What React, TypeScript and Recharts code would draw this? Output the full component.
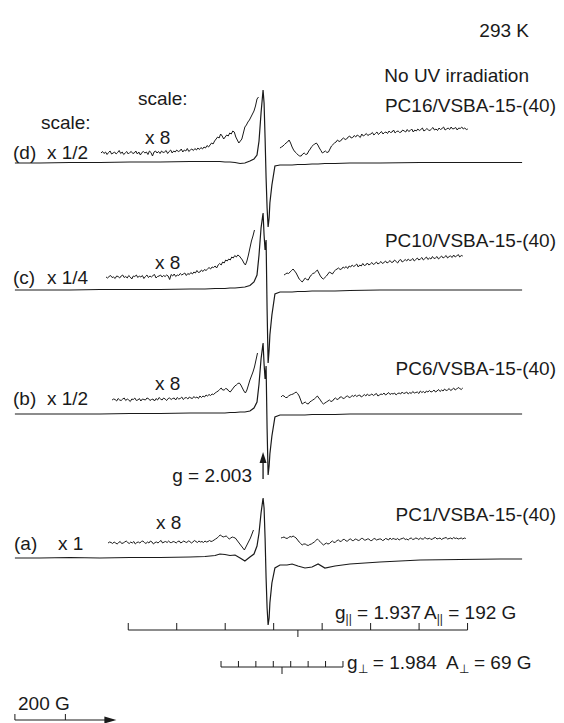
import { LineChart, Line, XAxis, YAxis, ReferenceLine, ReferenceDot } from 'recharts'

const W = 564
const H = 723
const INK = '#1a1a1a'
const FONT = '"Liberation Sans", Arial, Helvetica, sans-serif'

// magnetic field, gauss
const FIELD_DOMAIN: [number, number] = [2308, 4542]
const X8_STEP = 6

// shared field grid for the x1 / x1/2 / x1/4 spectra
const mainField = [
  2367, 2466, 2585, 2704, 2823, 2942, 3061, 3120, 3160, 3179,
  3199, 3219, 3239, 3259, 3278, 3298, 3314, 3326, 3334, 3342,
  3350, 3354, 3358, 3362, 3366, 3370, 3374, 3377, 3385, 3397,
  3417, 3445, 3465, 3488, 3516, 3544, 3568, 3595, 3635, 3694,
  3813, 3972, 4130, 4289, 4376,
]

const dMain = [
  0, 0, 0.5, 0.5, 1, 1, 1.5, 1.5, 1.5, 1.5,
  1, 1, 0.5, -0.5, 0, 2, 4, 8, 22, 50,
  73, 60, 25, -15, -45, -64, -55, -40, -22, -3,
  -2, -2, -2, -1.5, -1.5, -1, -1, -0.5, -0.5, 0,
  0, 0.5, 0.5, 0.5, 0.5,
]
const cMain = [
  0, 0, 0, 0.5, 0.5, 0.5, 1, 1, 1.5, 1.5,
  1.5, 2, 2, 2.5, 3, 4.5, 8, 15, 35, 62,
  77, 55, 40, 50, -20, -73, -60, -45, -25, -4,
  -2, -2, -2, -1.5, -1.5, -1, -1, -1, -1, -0.5,
  0, 0, 0, 0, 0,
]
const bMain = [
  0, 0, 0, 0, 0.5, 0.5, 1, 1, 1, 1,
  1, 1.5, 1.5, 2, 2, 3, 6, 12, 30, 55,
  71, 50, 35, 48, -15, -61, -52, -40, -22, -3,
  -1, -1, -1, -1, -1, -0.5, -0.5, -0.5, -0.5, 0,
  0, 0, 0, 0, 0,
]
const aMain = [
  0, 0, 0.5, 0, 0.5, 0.5, 1, 1.5, 2.5, 4,
  3.5, 2.5, 3, 0, -3, 1, 4, 12, 25, 45,
  60, 50, 20, -20, -50, -67, -60, -45, -25, -10,
  -7, -7, -6, -8, -10, -9, -6, -10, -8, -6,
  -4, -2, -1.5, -1, -1,
]

// x 8 expansions, left and right wings (start field, then 6 G steps)
const dX8LeftStart = 2708
const dX8Left = [
  0, 1.5, -0.5, 1, -1.5, 0.5, 2, -1, 0, 1,
  -1, 0.5, 2.5, -0.5, 1, -1.5, 0, 1.5, -1, 0.5,
  1.5, -0.5, 0, 2, -1, 1, -2, 0.5, 1.5, 0,
  1, -1.5, 2, 0.5, -3, 1, 2, 0, 1.5, -0.5,
  2, 0.5, 1, 2.5, -0.5, 1.5, 3, 0, 2, 1,
  3, 1.5, 2, 4, 1, 3, 2, 4.5, 1.5, 3,
  4, 2.5, 4.5, 3, 5, 3.5, 5.5, 4, 6, 5,
  7.5, 6, 8, 10, 9, 12, 14, 16, 15, 19,
  17, 14, 16, 18, 17, 20, 19, 22, 21, 16,
  13, 10, 12, 14, 20, 26, 28, 31, 33, 36,
  39, 42, 47, 54, 56,
]
const dX8RightStart = 3417
const dX8Right = [
  0, 1, 2, 3.5, 5, 6, 8, 5, 1, -2,
  -4, -5.5, -7, -8, -8, -6, -5, -6.5, -6, -3,
  -1, 1.5, 3, 4, 5, 3, 0, -2.5, -5, -4,
  -3, -4.5, -4, -1, 2, 3.5, 5, 6, 8, 6.5,
  7, 9, 10, 8.5, 9, 11, 12, 10, 10.5, 12.5,
  11, 13, 12, 10.5, 14, 12, 13, 14.5, 12.5, 13.5,
  14, 15.5, 13, 14.5, 16, 13.5, 15, 16.5, 14, 15.5,
  16, 14.5, 17, 15.5, 16, 18, 15, 16.5, 17, 15.5,
  16, 18, 17, 16, 18.5, 16.5, 17.5, 19, 16, 18,
  17, 19, 17.5, 18.5, 20, 17, 18, 19.5, 18, 17.5,
  19, 20.5, 18, 19, 17.5, 20, 18.5, 19.5, 21, 18,
  19, 20, 18.5, 21, 19, 19.5, 20.5, 18, 20, 19.5,
  21, 19, 20, 18.5, 19,
]
const cX8LeftStart = 2728
const cX8Left = [
  0, -1, 0.5, 1.5, -0.5, 0, -1.5, 1, 0.5, -1,
  1, 2, -0.5, 0.5, -1, 1.5, 0, -2, 1, 0.5,
  2, -0.5, 1, 0, 1.5, -1.5, 0.5, 2, -0.5, 1,
  0, 1.5, 2.5, -1, 0.5, 1, 2, 0, 1.5, 0.5,
  2, 1, -2.5, 2.5, 1, 3, 0.5, 2, 1.5, 3.5,
  2, 3, 4, 1.5, 3.5, 2.5, 4.5, 3, 5, 4,
  6.5, 4.5, 5, 7, 5.5, 7.5, 6.5, 8, 9.5, 8,
  10, 9.5, 11, 9, 12, 13.5, 12, 15, 14, 17,
  16, 18, 17, 20, 19, 21.5, 20, 22, 21, 19,
  17, 14, 12, 16, 22, 29, 36, 41, 47,
]
const cX8RightStart = 3433
const cX8Right = [
  0, 1, 2, 1.5, 3, 4.5, 6, 4, 2, -1,
  -4, -5.5, -7, -5, -3, -4.5, -5, -2, 0, 1.5,
  2, 3.5, 5, 2, -1, -3, -4, -2.5, -1, 1,
  3, 2, 1, 3.5, 5, 6, 7, 5.5, 6, 8,
  7, 8.5, 6.5, 9, 8, 10, 8.5, 9.5, 11, 8,
  10, 9, 11.5, 9.5, 10, 12, 10, 11, 12.5, 10.5,
  11.5, 13, 11, 12, 13.5, 11.5, 12.5, 14, 12, 13,
  14.5, 12.5, 13, 15, 13.5, 12, 14.5, 15.5, 13, 14,
  15.5, 14, 16, 14.5, 15, 16.5, 14, 15.5, 17, 15,
  16, 17.5, 15, 16.5, 18, 15.5, 17, 16, 18.5, 16.5,
  17, 18.5, 16, 17.5, 19, 17, 18, 19.5, 17, 18.5,
  19, 17.5, 20, 18, 19, 20.5, 18, 19.5, 19,
]
const bX8LeftStart = 2752
const bX8Left = [
  0, 1, 0.5, -1, 1.5, 0, -0.5, 1, 2, -0.5,
  1, 0, -1.5, 1, 0.5, 2, -0.5, 0, 1.5, -1,
  1, 0.5, 0, 2, 1.5, -0.5, 0.5, 1, -1, 1.5,
  0, 2.5, 1, 0, 2, 1, -0.5, 1.5, 2, 0.5,
  1.5, 2, 0, 2.5, 1, 1.5, 3, 0.5, 2, 2.5,
  1, 3, 2, 1.5, 3.5, 2, 3, 1.5, 4, 2.5,
  4, 3, 5, 4, 5.5, 4.5, 6, 5.5, 7, 8,
  9, 10.5, 12, 10, 10, 11.5, 11, 9, 8, 10,
  12, 14, 15, 16.5, 17, 15, 12, 9, 7, 10,
  15, 20, 24, 28, 33, 40, 47,
]
const bX8RightStart = 3421
const bX8Right = [
  0, 1.5, 1, -0.5, -0.5, 1, 2, 2.5, 3, 4,
  5, 3.5, 1, -3, -7, -6, -5, -6.5, -7, -5,
  -4, -3, -2, -0.5, 1, -1, -3, -5.5, -7, -6,
  -5, -4, -3, -4.5, -4, -2, -1, -2.5, -2, 0,
  0, -1.5, -1, 0.5, 1, -0.5, 0, 1.5, 0.5, 2,
  0.5, 1.5, 2, 0, 1, 2.5, 1, 3, 1.5, 2,
  3, 1.5, 2.5, 3.5, 1, 2, 3, 2.5, 4, 2,
  3, 4.5, 2.5, 3.5, 3, 4, 2, 3.5, 4, 3,
  5, 3.5, 4, 5, 3, 4.5, 3.5, 5.5, 4, 4.5,
  5, 3.5, 6, 4.5, 5.5, 4, 6, 5, 6.5, 5,
  5.5, 7, 5, 6, 7.5, 5.5, 7, 6, 8, 6.5,
  7, 8.5, 6.5, 7.5, 9, 7, 8, 9.5, 8.5, 7.5,
  9,
]
const aX8LeftStart = 2736
const aX8Left = [
  0, 1, 0.5, -0.5, 1, 0, -1, 0.5, 1.5, -0.5,
  0, 1, 2, 0.5, -0.5, 1, 0, 1.5, -1, 0.5,
  1, 0, 1.5, 2, 0.5, -0.5, 1, 0, 2, 1,
  -1, 0.5, 1, 0, 1.5, 2.5, 0, 1, 1.5, 0.5,
  2, 0.5, 0.5, 1.5, 1, 0, 1.5, 2, 0, 1,
  2, 1, 0.5, 2, 1.5, 0, 1, 2.5, 1.5, 0.5,
  2, 1, 1.5, 0.5, 2, 1, 1.5, 2.5, 1.5, 2,
  3, 4, 5, 6.5, 8, 7, 6, 6.5, 7, 5.5,
  4, 5, 6, 5.5, 5, 3, 1, -1, -3, -5,
  -7, -4, -1, 2, 5, 9, 13,
]
const aX8RightStart = 3421
const aX8Right = [
  0, 0.5, 1, 0, -0.5, 0.5, 1.5, 1, 2, 1,
  0, -2, -4, -5.5, -7, -6, -6, -7, -7.5, -6.5,
  -6, -5, -4, -2.5, -1, -2.5, -4, -5.5, -7, -6,
  -5, -6, -5.5, -4, -3, -4.5, -4, -2.5, -2, -3.5,
  -3, -1.5, -1.5, -3, -3, -1.5, -1, -2.5, -2.5, -1,
  -1.5, -2.5, -2, -0.5, -0.5, -2, -2, -1, -1, -2.5,
  -2.5, -1, -0.5, -2, -1.5, -1, -1, -2.5, -2, -0.5,
  -1, -2, 0, -1.5, -0.5, -1, -1.5, -0.5, -2, -1,
  -0.5, 0, -1.5, -1, -2, -0.5, 0, -1.5, -1, 0,
  -0.5, -1.5, 0, -1, -1, 0.5, -0.5, -1, 0, -1.5,
  -1, 0, 0.5, -1, -0.5, 0, -1.5, -0.5, 0, 0.5,
  -1, -0.5, 0, -1, 0.5, -0.5, 0, -1, -0.5, 0,
  -1, 0, -0.5,
]

// simulated 51V (I = 7/2) hyperfine stick patterns
const M_I = [-3.5, -2.5, -1.5, -0.5, 0.5, 1.5, 2.5, 3.5]
const G_PAR_CENTER = 3488
const A_PAR = 192
const G_PERP_CENTER = 3425
const A_PERP = 69
const G_FREE_FIELD = 3350
const SCALE_START = 2367
const SCALE_SPAN = 200

// chart y runs 0..H bottom-up, layout is given in px from the top
const yAt = (py: number) => H - py

const mainSeries = (vals: number[], base: number) =>
  mainField.map((field, i) => ({ field, y: yAt(base) + vals[i] }))
const x8Series = (start: number, vals: number[], base: number, lift: number) =>
  vals.map((v, i) => ({ field: start + i * X8_STEP, y: yAt(base) + lift + v }))

const traces = [
  { id: 'd-main', w: 1.2, data: mainSeries(dMain, 163) },
  { id: 'd-x8l', w: 1, data: x8Series(dX8LeftStart, dX8Left, 163, 10) },
  { id: 'd-x8r', w: 1, data: x8Series(dX8RightStart, dX8Right, 163, 15) },
  { id: 'c-main', w: 1.2, data: mainSeries(cMain, 290) },
  { id: 'c-x8l', w: 1, data: x8Series(cX8LeftStart, cX8Left, 290, 13) },
  { id: 'c-x8r', w: 1, data: x8Series(cX8RightStart, cX8Right, 290, 15) },
  { id: 'b-main', w: 1.2, data: mainSeries(bMain, 414) },
  { id: 'b-x8l', w: 1, data: x8Series(bX8LeftStart, bX8Left, 414, 14) },
  { id: 'b-x8r', w: 1, data: x8Series(bX8RightStart, bX8Right, 414, 17) },
  { id: 'a-main', w: 1.2, data: mainSeries(aMain, 558) },
  { id: 'a-x8l', w: 1, data: x8Series(aX8LeftStart, aX8Left, 558, 15) },
  { id: 'a-x8r', w: 1, data: x8Series(aX8RightStart, aX8Right, 558, 20) },
]

const parTicks = M_I.map((m) => G_PAR_CENTER + m * A_PAR)
const perpTicks = M_I.map((m) => G_PERP_CENTER + m * A_PERP)

const seg = (x1: number, py1: number, x2: number, py2: number) => [
  { x: x1, y: yAt(py1) },
  { x: x2, y: yAt(py2) },
]

const arrowRight = (p: any) => (
  <path d={`M${p.cx},${p.cy} l-12,-3.5 l0,7 z`} fill={INK} />
)
const arrowUp = (p: any) => (
  <path d={`M${p.cx},${p.cy} l-3.5,11 l7,0 z`} fill={INK} />
)

type Lbl = { t: string; x: number; cy: number; end?: boolean }
const labels: Lbl[] = [
  { t: '293 K', x: 529, cy: 30, end: true },
  { t: 'No UV irradiation', x: 529, cy: 75, end: true },
  { t: 'scale:', x: 138, cy: 98 },
  { t: 'PC16/VSBA-15-(40)', x: 556, cy: 105, end: true },
  { t: 'scale:', x: 41, cy: 122 },
  { t: 'x 8', x: 145, cy: 137 },
  { t: '(d)', x: 13, cy: 152 },
  { t: 'x 1/2', x: 47, cy: 152 },
  { t: 'PC10/VSBA-15-(40)', x: 556, cy: 240, end: true },
  { t: 'x 8', x: 155, cy: 262 },
  { t: '(c)', x: 13, cy: 277 },
  { t: 'x 1/4', x: 47, cy: 277 },
  { t: 'PC6/VSBA-15-(40)', x: 556, cy: 368, end: true },
  { t: 'x 8', x: 155, cy: 383 },
  { t: '(b)', x: 13, cy: 398 },
  { t: 'x 1/2', x: 47, cy: 398 },
  { t: 'g = 2.003', x: 252, cy: 475, end: true },
  { t: 'PC1/VSBA-15-(40)', x: 556, cy: 514, end: true },
  { t: 'x 8', x: 156, cy: 522 },
  { t: '(a)', x: 14, cy: 543 },
  { t: 'x 1', x: 58, cy: 543 },
  { t: '200 G', x: 18, cy: 703 },
]

export default function App() {
  return (
    <div style={{ position: 'absolute', left: 0, top: 0, width: W, height: H, background: '#fff' }}>
      <LineChart width={W} height={H} margin={{ top: 0, right: 0, bottom: 0, left: 0 }}>
        <XAxis dataKey="field" type="number" domain={FIELD_DOMAIN} hide allowDataOverflow />
        <YAxis type="number" domain={[0, H]} hide allowDataOverflow />
        {traces.map((t) => (
          <Line
            key={t.id}
            data={t.data}
            dataKey="y"
            type="linear"
            stroke={INK}
            strokeWidth={t.w}
            dot={false}
            activeDot={false}
            isAnimationActive={false}
          />
        ))}

        {/* g|| stick pattern */}
        <ReferenceLine segment={seg(parTicks[0], 630, parTicks[7], 630)} stroke={INK} />
        {parTicks.map((f) => (
          <ReferenceLine key={`par-${f}`} segment={seg(f, 630, f, 623)} stroke={INK} />
        ))}
        <ReferenceLine segment={seg(G_PAR_CENTER, 630, G_PAR_CENTER, 637)} stroke={INK} />

        {/* g-perp stick pattern */}
        <ReferenceLine segment={seg(perpTicks[0], 667, perpTicks[7], 667)} stroke={INK} />
        {perpTicks.map((f) => (
          <ReferenceLine key={`perp-${f}`} segment={seg(f, 667, f, 661)} stroke={INK} />
        ))}
        <ReferenceLine segment={seg(G_PERP_CENTER, 667, G_PERP_CENTER, 674)} stroke={INK} />

        {/* g = 2.003 marker */}
        <ReferenceLine segment={seg(G_FREE_FIELD, 479, G_FREE_FIELD, 460)} stroke={INK} strokeWidth={1.3} />
        <ReferenceDot x={G_FREE_FIELD} y={yAt(452)} r={0} shape={arrowUp} />

        {/* 200 G scale bar */}
        <ReferenceLine segment={seg(SCALE_START, 720, SCALE_START + 2 * SCALE_SPAN - 10, 720)} stroke={INK} />
        <ReferenceLine segment={seg(SCALE_START, 720, SCALE_START, 714)} stroke={INK} />
        <ReferenceLine segment={seg(SCALE_START + SCALE_SPAN, 720, SCALE_START + SCALE_SPAN, 714)} stroke={INK} />
        <ReferenceDot x={SCALE_START + 2 * SCALE_SPAN + 2} y={yAt(720)} r={0} shape={arrowRight} />
      </LineChart>

      <svg
        width={W}
        height={H}
        style={{ position: 'absolute', left: 0, top: 0, pointerEvents: 'none' }}
        fontFamily={FONT}
        fontSize={19}
        fill={INK}
      >
        {labels.map((l, i) => (
          <text key={i} x={l.x} y={l.cy + 7} textAnchor={l.end ? 'end' : 'start'}>
            {l.t}
          </text>
        ))}
        <text x={335} y={619}>
          g<tspan fontSize={12} dy={4}>||</tspan>
          <tspan dy={-4}> = 1.937</tspan>
        </text>
        <text x={424} y={619}>
          A<tspan fontSize={12} dy={4}>||</tspan>
          <tspan dy={-4}> = 192 G</tspan>
        </text>
        <text x={347} y={669}>
          g<tspan fontSize={12} dy={4}>⊥</tspan>
          <tspan dy={-4}> = 1.984</tspan>
        </text>
        <text x={446} y={669}>
          A<tspan fontSize={12} dy={4}>⊥</tspan>
          <tspan dy={-4}> = 69 G</tspan>
        </text>
      </svg>
    </div>
  )
}
